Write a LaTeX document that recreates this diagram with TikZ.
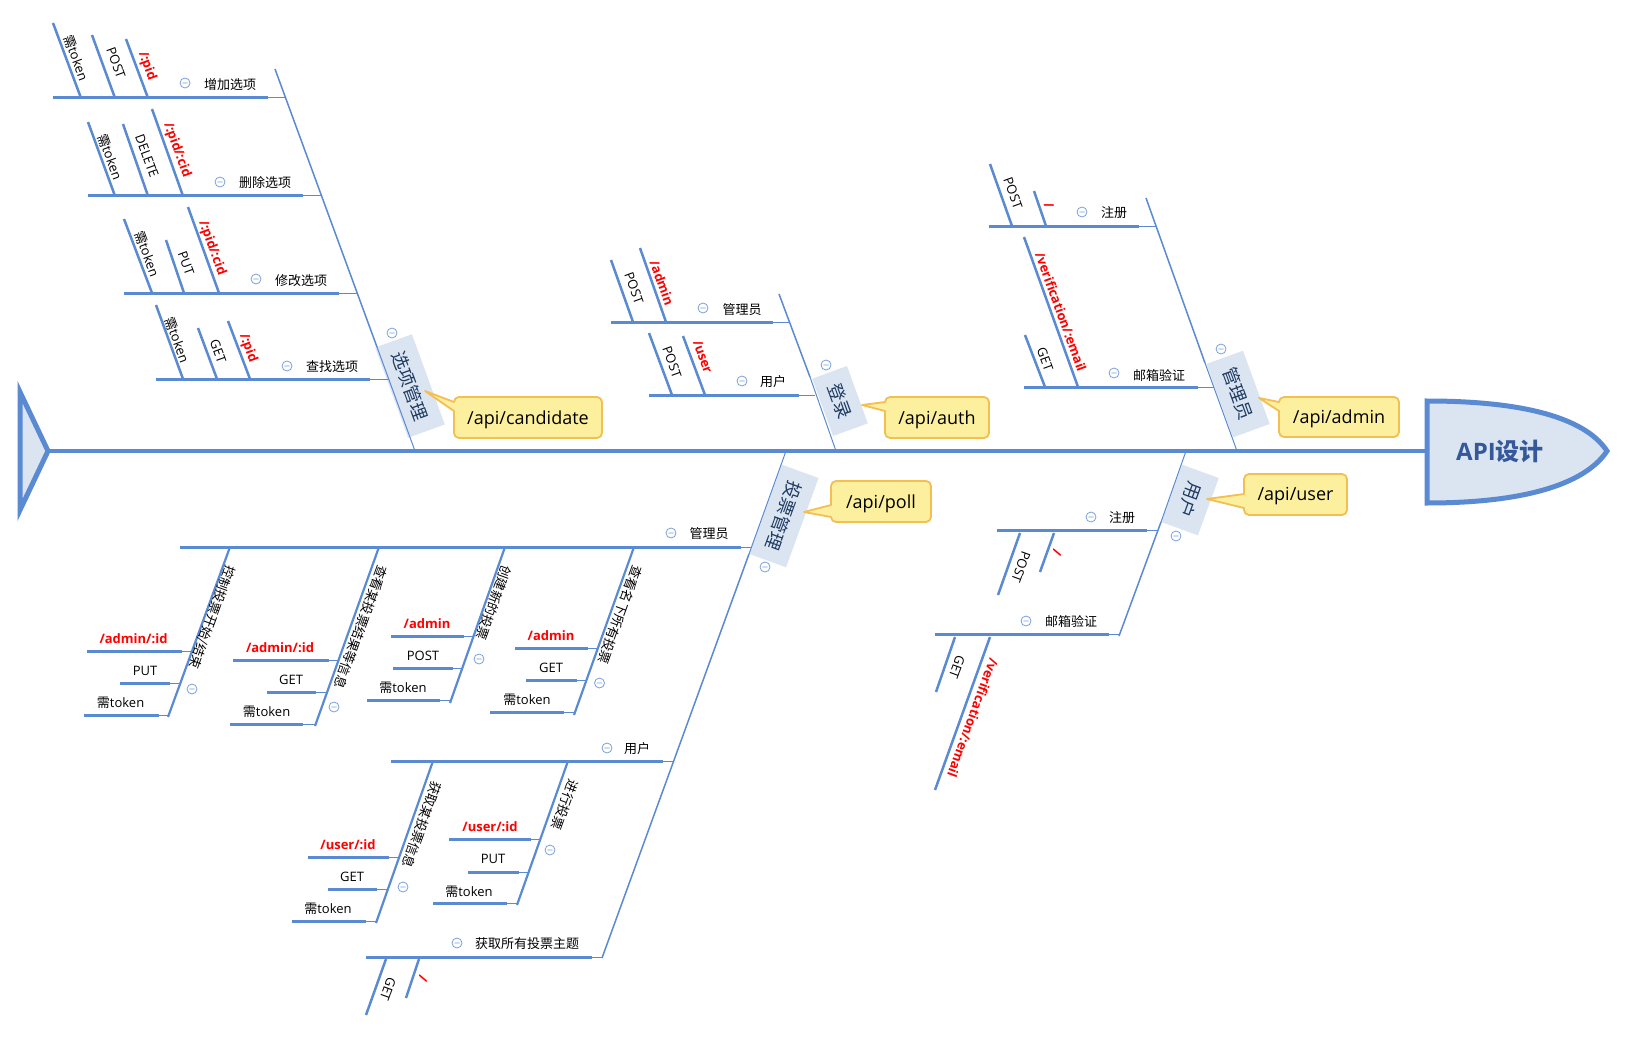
\documentclass[tikz,border=0pt]{standalone}
\usepackage{fontspec}
\setmainfont{Open Sans}
\newfontfamily\zhf{Noto Sans CJK SC}
\newcommand\zht[1]{{\zhf #1}}
\definecolor{bl}{HTML}{5A8AD2}
\definecolor{lightbl}{HTML}{DBE5F2}
\definecolor{cfill}{HTML}{FCF09E}
\definecolor{cborder}{HTML}{F3BE52}
\definecolor{icoc}{HTML}{7AA0DA}
\definecolor{headtext}{HTML}{34589A}
\definecolor{cattext}{HTML}{1F3A60}
\newcounter{nodec}
\newcommand\lab[4]{\stepcounter{nodec}\node[lbl,#1] (n\arabic{nodec}) at (#2,#3) {#4};}
\newcommand\mico[2]{\draw[micon] (#1,#2) circle[radius=5pt] ++(-2.6pt,0) -- ++(5.2pt,0);}
\newcommand\hbone[4]{\draw[hb] (#2,#1) -- (#3,#1); \draw[conn] (#3,#1) -- (#4,#1);}
\newcommand\sleaf[8]{\draw[lfl] (#1,#2) -- (#3,#4); \lab{#7}{#5}{#6}{#8}}
\newcommand\hleaf[8]{\draw[hb] (#2,#1) -- (#3,#1); \draw[conn] (#3,#1) -- (#4,#1); \lab{#7}{#5}{#6}{#8}}
\newcommand\callo[9]{\draw[callst] (#3,#4) -- (#1,#5) [rounded corners=5pt] -- (#1,#6) -- (#2,#6) -- (#2,#7) -- (#1,#7) [sharp corners] -- (#1,#8) -- cycle;
  \stepcounter{nodec}\node[calltext] (n\arabic{nodec}) at ({(#1+#2)/2},{(#6+#7)/2}) {#9};}
\begin{document}
\begin{tikzpicture}[x=1pt,y=-1pt,
  spine/.style={draw=bl,line width=4.5pt},
  bone/.style={draw=bl,line width=1.5pt},
  conn/.style={draw=bl,line width=1pt},
  hb/.style={draw=bl,line width=3pt},
  lfl/.style={draw=bl,line width=2.5pt},
  subb/.style={draw=bl,line width=2.2pt},
  micon/.style={draw=icoc,line width=0.8pt,fill=white},
  lbl/.style={inner sep=0pt,font=\fontsize{13}{15}\selectfont,text=black},
  rd/.style={text=red,font=\fontsize{13}{15}\selectfont\bfseries},
  tr/.style={rotate=-70},
  br/.style={rotate=-110},
  catbox/.style={fill=lightbl,inner sep=0pt,text=cattext,font=\fontsize{18}{20}\selectfont\zhf},
  callst/.style={fill=cfill,draw=cborder,line width=1.8pt,line join=round},
  calltext/.style={inner sep=0pt,yshift=-2pt,font=\fontsize{18}{20}\selectfont,text=black},
  tailst/.style={fill=lightbl,draw=bl,line width=5pt,line join=miter},
  headst/.style={fill=lightbl,draw=bl,line width=5pt},
]
\useasboundingbox (0,0) rectangle (1626,1038);
\fill[white] (0,0) rectangle (1626,1038);

% spine, tail, head
\draw[spine] (45,451) -- (1427,451);
\draw[tailst] (20,392) -- (48,451) -- (20,510) -- cycle;
\draw[headst] (1427,401) .. controls (1535,401) and (1588,422) .. (1607,451) .. controls (1588,480) and (1535,503) .. (1427,503) -- cycle;
\node[inner sep=0pt,text=headtext,font=\fontsize{24}{26}\selectfont\bfseries] (head) at (1500,451) {API\zht{设计}};

% category boxes
\node[catbox,rotate=-70,minimum width=96pt,minimum height=39pt] (c1) at (410,386) {选项管理};
\node[catbox,rotate=-70,minimum width=61pt,minimum height=37pt] (c2) at (840,401) {登录};
\node[catbox,rotate=-70,minimum width=78pt,minimum height=39pt] (c3) at (1238,394) {管理员};
\node[catbox,rotate=-110,minimum width=95pt,minimum height=39pt] (c4) at (784,516) {投票管理};
\node[catbox,rotate=-110,minimum width=61pt,minimum height=39pt] (c5) at (1190,500) {用户};

% category bones (thick part, then thin part along the box down to the spine)
\draw[bone] (275,69) -- (377,347);
\draw[conn] (377,347) -- (415,451);
\draw[bone] (779,294) -- (810,377);
\draw[conn] (810,377) -- (836,451);
\draw[bone] (1146,198) -- (1205,363);
\draw[conn] (1205,363) -- (1237,451);
\draw[conn] (786,451) -- (749,554);
\draw[bone] (749,554) -- (602,958);
\draw[conn] (1186,451) -- (1161,522);
\draw[bone] (1161,522) -- (1119,636);
\mico{392}{333}
\mico{826}{365}
\mico{1221}{349}
\mico{765}{567}
\mico{1176}{536}

% callouts
\callo{454}{602}{425}{391}{411}{438}{397}{402}{/api/candidate}
\callo{885}{989}{862}{405}{411}{438}{397}{402}{/api/auth}
\callo{1279}{1399}{1259}{398}{411}{437}{397}{402}{/api/admin}
\callo{831}{931}{804}{512}{505}{481}{522}{517}{/api/poll}
\callo{1244}{1347}{1207}{499}{494}{474}{515}{508}{/api/user}

% ---- 选项管理
\hbone{98}{53}{268}{286}
\lab{}{230}{85}{\zht{增加选项}} \mico{185}{83}
\sleaf{53}{23}{81}{98}{76}{58}{tr}{\zht{需}token}
\sleaf{92}{35}{115}{98}{116}{63}{tr}{POST}
\sleaf{126}{39}{148}{98}{147}{66}{tr,rd}{/:pid}
\hbone{196}{88}{303}{322}
\lab{}{265}{183}{\zht{删除选项}} \mico{220}{182}
\sleaf{88}{122}{115}{196}{110}{157}{tr}{\zht{需}token}
\sleaf{123}{124}{148}{196}{147}{156}{tr}{DELETE}
\sleaf{152}{109}{183}{196}{177}{150}{tr,rd}{/:pid/:cid}
\hbone{293}{124}{339}{357}
\lab{}{301}{281}{\zht{修改选项}} \mico{256}{279}
\sleaf{124}{219}{152}{293}{147}{254}{tr}{\zht{需}token}
\sleaf{166}{240}{184}{293}{186}{263}{tr}{PUT}
\sleaf{188}{207}{219}{293}{212}{248}{tr,rd}{/:pid/:cid}
\hbone{379}{156}{370}{389}
\lab{}{332}{367}{\zht{查找选项}} \mico{287}{366}
\sleaf{156}{305}{183}{379}{177}{340}{tr}{\zht{需}token}
\sleaf{198}{328}{217}{379}{218}{351}{tr}{GET}
\sleaf{228}{321}{250}{379}{248}{348}{tr,rd}{/:pid}

% ---- 登录
\hbone{322}{611}{773}{789}
\lab{}{742}{310}{\zht{管理员}} \mico{703}{308}
\sleaf{611}{260}{633}{322}{634}{288}{tr}{POST}
\sleaf{640}{248}{666}{322}{662}{283}{tr,rd}{/admin}
\hbone{395}{649}{799}{815}
\lab{}{773}{382}{\zht{用户}} \mico{742}{381}
\sleaf{649}{333}{672}{395}{672}{362}{tr}{POST}
\sleaf{683}{336}{705}{395}{703}{357}{tr,rd}{/user}

% ---- 管理员
\hbone{226}{989}{1139}{1156}
\lab{}{1114}{213}{\zht{注册}} \mico{1082}{212}
\sleaf{990}{164}{1012}{226}{1013}{193}{tr}{POST}
\sleaf{1034}{191}{1046}{226}{1049}{205}{tr,rd}{/}
\hbone{387}{1024}{1198}{1214}
\lab{}{1159}{376}{\zht{邮箱验证}} \mico{1114}{373}
\sleaf{1025}{335}{1045}{387}{1045}{359}{tr}{GET}
\sleaf{1024}{237}{1078}{387}{1061}{312}{tr,rd}{/verification/:email}

% ---- 投票管理
\hbone{547}{180}{741}{751}
\lab{}{709}{534}{\zht{管理员}} \mico{671}{533}
\draw[subb] (230,547) -- (168,717);
\lab{br}{211.5}{617}{\zht{控制投票开始/结束}} \mico{192}{689}
\hleaf{651}{87}{182}{192}{133.5}{639}{rd}{/admin/:id}
\hleaf{683}{120}{170}{180}{145}{671}{}{PUT}
\hleaf{715}{84}{159}{169}{120.6}{703}{}{\zht{需}token}
\draw[subb] (379,547) -- (315,726);
\lab{br}{361}{627}{\zht{查看某投票结果等信息}} \mico{334}{707}
\hleaf{660}{233}{329}{339}{280}{648}{rd}{/admin/:id}
\hleaf{692}{267}{316}{327}{291}{680}{}{GET}
\hleaf{724}{230}{303}{316}{266.6}{712}{}{\zht{需}token}
\draw[subb] (505,547) -- (450,703);
\lab{br}{494}{603}{\zht{创建新的投票}} \mico{479}{659}
\hleaf{636}{391}{464}{474}{427}{624}{rd}{/admin}
\hleaf{668}{393}{453}{462}{423}{656}{}{POST}
\hleaf{700}{367}{440}{451}{403}{688}{}{\zht{需}token}
\draw[subb] (634,547) -- (574,715);
\lab{br}{620}{615}{\zht{查看名下所有投票}} \mico{599.5}{683}
\hleaf{648}{515}{588}{598}{551}{636}{rd}{/admin}
\hleaf{680}{526}{577}{587}{551}{668}{}{GET}
\hleaf{712}{490}{564}{575}{527}{700}{}{\zht{需}token}

\hbone{761}{391}{663}{674}
\lab{}{637}{749}{\zht{用户}} \mico{607}{748}
\draw[subb] (433,761) -- (376,923);
\lab{br}{422}{825}{\zht{获取某投票信息}} \mico{403}{887}
\hleaf{857}{308}{389}{399}{348}{845}{rd}{/user/:id}
\hleaf{889}{328}{377}{388}{352}{877}{}{GET}
\hleaf{921}{292}{366}{376}{328}{909}{}{\zht{需}token}
\draw[subb] (568,761) -- (517,905);
\lab{br}{565}{805}{\zht{进行投票}} \mico{550}{850}
\hleaf{839}{449}{531}{540}{490}{827}{rd}{/user/:id}
\hleaf{872}{468}{519}{529}{493}{859}{}{PUT}
\hleaf{903}{433}{507}{518}{469}{892}{}{\zht{需}token}

\hbone{957}{366}{592}{602}
\lab{}{527}{944}{\zht{获取所有投票主题}} \mico{457}{943}
\sleaf{386}{959}{366}{1015}{388}{989}{br}{GET}
\sleaf{419}{959}{406}{998}{423}{979}{br,rd}{/}

% ---- 用户
\hbone{530}{997}{1147}{1157}
\lab{}{1122}{518}{\zht{注册}} \mico{1091}{517}
\sleaf{1020}{533}{998}{595}{1021}{567}{br}{POST}
\sleaf{1054}{533}{1040}{572}{1057}{553}{br,rd}{/}
\hbone{634}{935}{1109}{1120}
\lab{}{1071}{622}{\zht{邮箱验证}} \mico{1026}{621}
\sleaf{955}{637}{936}{692}{957}{667}{br}{GET}
\sleaf{990}{637}{935}{790}{973}{718}{br,rd}{/verification/:email}
\end{tikzpicture}
\end{document}
